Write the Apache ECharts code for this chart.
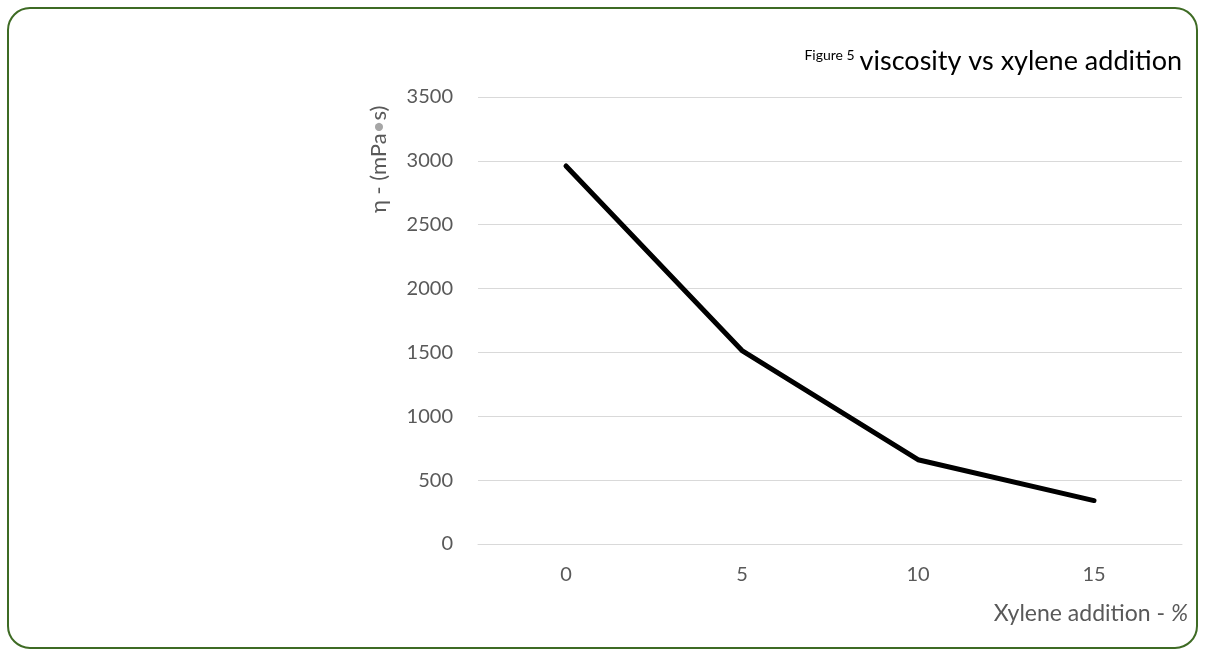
<!DOCTYPE html>
<html><head><meta charset="utf-8">
<script src="https://cdn.jsdelivr.net/npm/echarts@6/dist/echarts.min.js"></script>
<style>html,body{margin:0;padding:0;background:#fff}#c{width:1205px;height:654px}</style>
</head><body><div id="c"></div>
<script>
const categories = ['0', '5', '10', '15'];
const viscosity = [2960, 1515, 660, 340];
const yTicks = [0, 3500, 500];

const chart = echarts.init(document.getElementById('c'));
const font = 'Lato, "Open Sans", sans-serif';
chart.setOption({
  animation: false,
  backgroundColor: '#fff',
  title: {
    text: '{s|Figure 5} {b|viscosity vs xylene addition}',
    right: 18, top: 43,
    textStyle: { rich: {
      s: { fontSize: 14, color: '#000', fontFamily: font, fontWeight: 'normal', verticalAlign: 'top', padding: [0,0,12,0] },
      b: { fontSize: 27, color: '#000', fontFamily: font, fontWeight: 'normal' }
    } }
  },
  graphic: [
    { type: 'rect', shape: { x: 8, y: 8, width: 1189, height: 640, r: 22 },
      style: { fill: 'none', stroke: '#3e6b24', lineWidth: 2 }, silent: true },
    { type: 'text', x: 368, y: 213, rotation: Math.PI / 2,
      style: { text: 'η - (mPa{d|•}s)', fontSize: 22, fill: '#595959', fontFamily: font,
        rich: { d: { fontSize: 22, fill: '#a6a6a6', fontFamily: font } } } }
  ],
  grid: { left: 478, right: 23, top: 97, bottom: 110, containLabel: false },
  xAxis: {
    type: 'category', data: categories, boundaryGap: true,
    name: '{n|Xylene addition - }{i|%}', nameLocation: 'end',
    nameGap: 0,
    nameTextStyle: { align: 'right', verticalAlign: 'top', padding: [58, -6, 0, 0],
      rich: { n: { fontSize: 23, color: '#595959', fontFamily: font },
              i: { fontSize: 23, color: '#595959', fontFamily: font, fontStyle: 'italic' } } },
    axisLine: { show: true, lineStyle: { color: '#d9d9d9' } },
    axisTick: { show: false },
    axisLabel: { fontSize: 20, color: '#595959', fontFamily: font, margin: 21 }
  },
  yAxis: {
    type: 'value', min: yTicks[0], max: yTicks[1], interval: yTicks[2],
    axisLine: { show: false }, axisTick: { show: false },
    splitLine: { lineStyle: { color: '#d9d9d9', width: 1 } },
    axisLabel: { fontSize: 20, color: '#595959', fontFamily: font, margin: 25,
      formatter: v => String(v) }
  },
  series: [{
    type: 'line', data: viscosity, symbol: 'none',
    lineStyle: { color: '#000', width: 5, cap: 'round', join: 'round' }
  }]
});
</script></body></html>
